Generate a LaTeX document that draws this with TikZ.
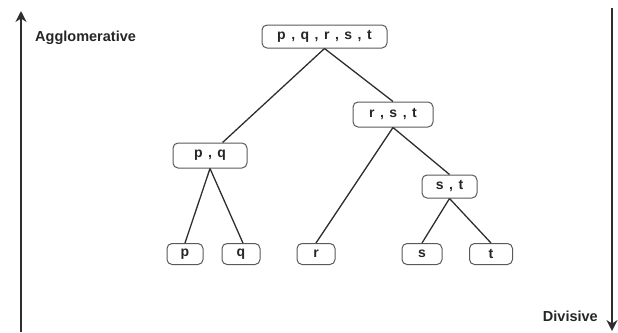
\documentclass[tikz,border=0pt]{standalone}
\usepackage{fontspec}
\setmainfont{Liberation Sans}
\usetikzlibrary{arrows.meta}
\definecolor{linegray}{HTML}{2E2E2E}
\definecolor{boxgray}{HTML}{5A5A5A}
\newcommand{\clusterfont}{\bfseries\fontsize{14}{16}\selectfont\spaceskip 5.5pt\relax}
\tikzset{
  cluster/.style={draw=boxgray, line width=1pt, rounded corners=5pt, fill=white,
    text=black!85, font=\clusterfont,
    minimum height=23pt, inner sep=2pt},
  branch/.style={draw=linegray, line width=1.3pt},
  axis/.style={draw=linegray, line width=2pt, -{Stealth[length=11pt,width=11pt]}},
  axislabel/.style={font=\bfseries\fontsize{14.5}{16}\selectfont, text=black!85, inner sep=0pt}
}
\begin{document}
\begin{tikzpicture}[x=1pt,y=-1pt]
                \useasboundingbox (0,0) rectangle (618,332);
                
                % Drawing axis Agglomerative
                \coordinate (aggbot) at (21,332);
                \coordinate (aggtop) at (21,11);
                \draw [axis] (aggbot) -- (aggtop);%
                \node [axislabel, anchor=west] (agg) at (35,38) {Agglomerative};%
                
                % Drawing axis Divisive
                \coordinate (divtop) at (612,8);
                \coordinate (divbot) at (612,331);
                \draw [axis] (divtop) -- (divbot);%
                \node [axislabel, anchor=east] (div) at (598,316) {Divisive};%
                
                % Drawing cluster nodes
                \node [cluster, minimum width=125pt] (pqrst) at (324.5,36.5) {p , q , r , s , t};%
                \node [cluster, minimum width=80pt, minimum height=25pt] (rst) at (393,114.5) {r , s , t};%
                \node [cluster, minimum width=74pt, minimum height=25pt] (pq) at (210,155.5) {p , q};%
                \node [cluster, minimum width=55pt] (st) at (449.5,186.5) {s , t};%
                
                % Drawing leaf nodes
                \node [cluster, minimum width=36pt, minimum height=21pt] (p) at (185,254) {p};%
                \node [cluster, minimum width=38pt, minimum height=21pt] (q) at (241,254) {q};%
                \node [cluster, minimum width=38pt, minimum height=21pt] (r) at (316,254) {r};%
                \node [cluster, minimum width=40pt, minimum height=21pt] (s) at (422,254) {s};%
                \node [cluster, minimum width=43pt, minimum height=21pt] (t) at (491,254) {t};%
                
                % Drawing branches
                \draw [branch] (pqrst.south) -- (pq.46);%
                \draw [branch] (pqrst.south) -- (rst.north);%
                \draw [branch] (rst.south) -- (r.north);%
                \draw [branch] (rst.south) -- (st.north);%
                \draw [branch] (pq.south) -- (p.north);%
                \draw [branch] (pq.south) -- (q.80);%
                \draw [branch] (st.south) -- (s.north);%
                \draw [branch] (st.south) -- (t.north);%
\end{tikzpicture}
\end{document}
